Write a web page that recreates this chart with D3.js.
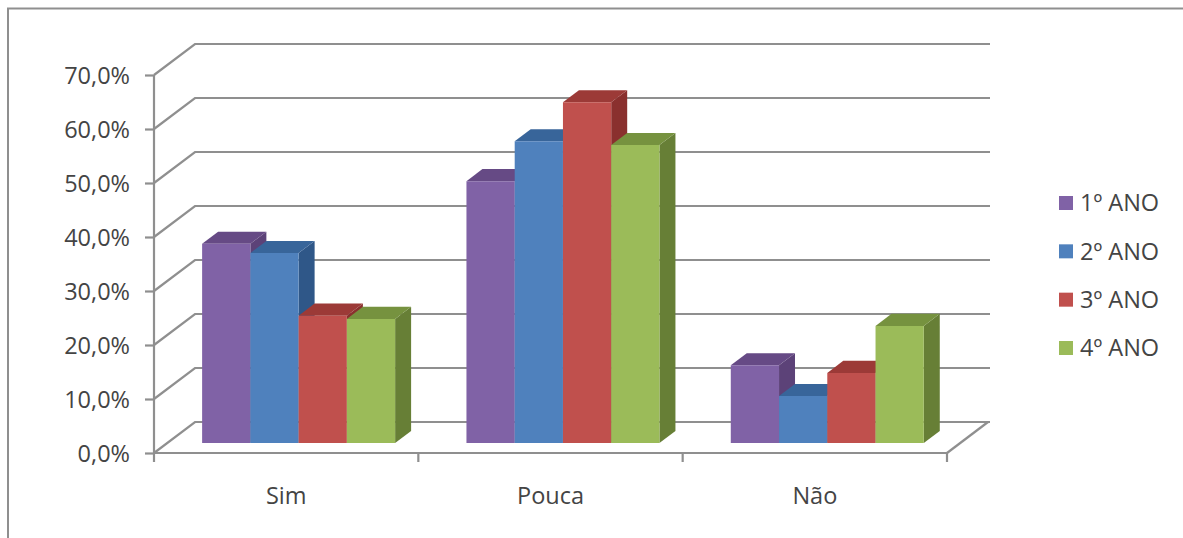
<!DOCTYPE html>
<html>
<head>
<meta charset="utf-8">
<script src="https://cdnjs.cloudflare.com/ajax/libs/d3/7.8.5/d3.min.js"></script>
<style>
  html, body { margin: 0; padding: 0; background: #fff; }
  svg { display: block; }
  text { font-family: "Open Sans", Lato, sans-serif; fill: #444; }
</style>
</head>
<body>
<svg id="chart" width="1183" height="538"></svg>
<script>
// Survey answers per course year, in percent
const categories = ["Sim", "Pouca", "Não"];
const seriesNames = ["1º ANO", "2º ANO", "3º ANO", "4º ANO"];
const ano1 = [36.9, 48.5, 14.4];
const ano2 = [35.2, 55.9, 8.7];
const ano3 = [23.6, 63.1, 13.0];
const ano4 = [23.0, 55.2, 21.7];
const allSeries = [ano1, ano2, ano3, ano4];
const yTicks = [0, 10, 20, 30, 40, 50, 60, 70];

const faceColors = ["#8062a6", "#4f81bd", "#c0504d", "#9bbb59"];
const topColors = ["#664a85", "#38659a", "#9c3a37", "#76923f"];
const sideColors = ["#5c4278", "#2f5788", "#8a302e", "#677f36"];
const lineColor = "#8f8f8f";
const labelSize = "23.5px";

const svg = d3.select("#chart");

// Frame around the chart area: left and top edges only are in view
svg.append("path")
  .attr("d", d3.line()([[8, 538], [8, 8.5], [1183, 8.5]]))
  .attr("fill", "none").attr("stroke", lineColor).attr("stroke-width", 2);

// Front-plane scales plus an oblique projection for depth
const x = d3.scaleBand().domain(categories).range([154, 947]);
const y = d3.scaleLinear().domain([0, 70]).range([453, 75]);
const depthX = 41, depthY = -31;
const project = (px, py, d) => [px + depthX * d, py + depthY * d];

// Bars sit part way into the floor
const barDepthStart = 0.32, barDepthEnd = 0.71;
const groupInset = 35, groupWidth = 193;
const xInner = d3.scaleBand().domain(d3.range(seriesNames.length)).range([0, groupWidth]);

const walls = svg.append("g")
  .attr("fill", "none").attr("stroke", lineColor).attr("stroke-width", 2.2);

// Gridlines: slanted on the side wall, flat along the back wall
yTicks.forEach(t => {
  const front = [x.range()[0], y(t)];
  const back = project(front[0], front[1], 1);
  const backRight = [990, back[1]];
  walls.append("path").attr("d", d3.line()([front, back, backRight]));
});

// Floor edge on the right
walls.append("path").attr("d", d3.line()([
  [x.range()[1], y(0)],
  project(x.range()[1], y(0), 1)
]));

// Value axis with outward ticks
const yAxisG = svg.append("g").attr("transform", `translate(${x.range()[0]},0)`)
  .call(d3.axisLeft(y).tickValues(yTicks).tickSize(9).tickPadding(15)
    .tickFormat(d => d3.format(".1f")(d).replace(".", ",") + "%"));
yAxisG.selectAll("line, path").attr("stroke", lineColor).attr("stroke-width", 2.2);
yAxisG.selectAll("text").attr("dy", "0.37em").style("font-size", labelSize).style("fill", "#444");
yAxisG.select(".domain").attr("d", `M0,${y(70)}V${y(0)}`);

// Category axis: ticks fall on band edges
const xAxisG = svg.append("g").attr("transform", `translate(0,${y(0)})`)
  .call(d3.axisBottom(x).tickSize(0).tickPadding(34));
xAxisG.selectAll("text").style("font-size", labelSize).style("fill", "#444");
xAxisG.selectAll("line").remove();
xAxisG.select(".domain").attr("d", `M${x.range()[0]},0H${x.range()[1]}`)
  .attr("stroke", lineColor).attr("stroke-width", 2.2);
const edgeTicks = categories.map(c => x(c)).concat(x.range()[1]);
xAxisG.selectAll(".edge-tick").data(edgeTicks).enter().append("line")
  .attr("class", "edge-tick")
  .attr("x1", d => d).attr("x2", d => d).attr("y1", 0).attr("y2", 9)
  .attr("stroke", lineColor).attr("stroke-width", 2.2);

// Extruded bars, drawn left to right so that each hides its neighbour's side
const polygon = pts => "M" + pts.map(p => p.join(",")).join("L") + "Z";
const bars = svg.append("g");
categories.forEach((cat, ci) => {
  allSeries.forEach((values, si) => {
    const left = x(cat) + groupInset + xInner(si);
    const right = left + xInner.bandwidth();
    const top = y(values[ci]);
    const base = y(0);
    const f = (px, py) => project(px, py, barDepthStart);
    const b = (px, py) => project(px, py, barDepthEnd);
    const g = bars.append("g");
    g.append("path").attr("fill", sideColors[si])
      .attr("d", polygon([f(right, top), b(right, top), b(right, base), f(right, base)]));
    g.append("path").attr("fill", topColors[si])
      .attr("d", polygon([f(left, top), b(left, top), b(right, top), f(right, top)]));
    g.append("path").attr("fill", faceColors[si])
      .attr("d", polygon([f(left, top), f(right, top), f(right, base), f(left, base)]));
  });
});

// Legend
const legendY = d3.scalePoint().domain(seriesNames).range([203, 348]);
const legend = svg.append("g");
seriesNames.forEach((name, i) => {
  legend.append("rect")
    .attr("x", 1059).attr("y", legendY(name) - 7).attr("width", 14).attr("height", 14)
    .attr("fill", faceColors[i]);
  legend.append("text")
    .attr("x", 1080).attr("y", legendY(name))
    .attr("dy", "0.35em").style("font-size", labelSize)
    .text(name);
});
</script>
</body>
</html>
